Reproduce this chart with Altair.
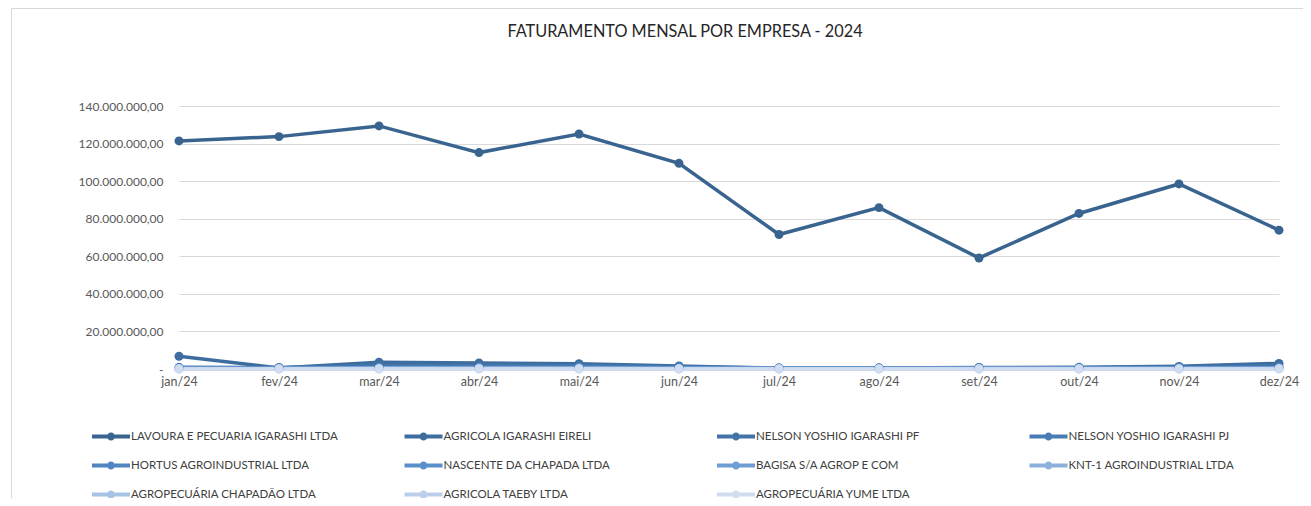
import altair as alt
import pandas as pd

months = ["jan/24", "fev/24", "mar/24", "abr/24", "mai/24", "jun/24",
          "jul/24", "ago/24", "set/24", "out/24", "nov/24", "dez/24"]

companies = [
    "LAVOURA E PECUARIA IGARASHI LTDA",
    "AGRICOLA IGARASHI EIRELI",
    "NELSON YOSHIO IGARASHI PF",
    "NELSON YOSHIO IGARASHI PJ",
    "HORTUS AGROINDUSTRIAL LTDA",
    "NASCENTE DA CHAPADA LTDA",
    "BAGISA S/A AGROP E COM",
    "KNT-1 AGROINDUSTRIAL LTDA",
    "AGROPECUÁRIA CHAPADÃO LTDA",
    "AGRICOLA TAEBY LTDA",
    "AGROPECUÁRIA YUME LTDA",
]

colors = ["#38648F", "#3D6D9E", "#4374A8", "#497CB3", "#5085BF", "#5A8FCA",
          "#6E9DD3", "#8BB0DC", "#A6C2E4", "#BBCFEB", "#D0DDF1"]

# values in R$ (millions)
lavoura = [121.4, 123.7, 129.4, 115.2, 125.1, 109.5, 71.6, 85.9, 59.1, 82.8, 98.5, 73.9]
eireli = [6.8, 0.6, 3.6, 3.2, 2.8, 1.6, 0.4, 0.5, 0.8, 0.9, 1.4, 3.0]
nelson_pf = [0.9, 0.8, 1.8, 2.0, 1.9, 1.2, 0.6, 0.6, 0.7, 0.7, 0.9, 1.6]
nelson_pj = [0.6, 0.5, 0.9, 1.1, 1.0, 0.8, 0.5, 0.5, 0.6, 0.6, 0.7, 0.9]
hortus = [0.5, 0.4, 0.7, 0.8, 0.8, 0.6, 0.4, 0.4, 0.5, 0.5, 0.6, 0.7]
nascente = [0.4, 0.3, 0.5, 0.6, 0.6, 0.5, 0.3, 0.3, 0.4, 0.4, 0.5, 0.5]
bagisa = [0.3, 0.2, 0.4, 0.4, 0.4, 0.3, 0.2, 0.2, 0.3, 0.3, 0.3, 0.4]
knt1 = [0.2, 0.2, 0.3, 0.3, 0.3, 0.2, 0.2, 0.2, 0.2, 0.2, 0.2, 0.3]
chapadao = [0.1, 0.1, 0.2, 0.2, 0.2, 0.1, 0.1, 0.1, 0.1, 0.1, 0.1, 0.2]
taeby = [0.05, 0.05, 0.1, 0.1, 0.1, 0.05, 0.05, 0.05, 0.05, 0.05, 0.05, 0.1]
yume = [0.0, 0.0, 0.0, 0.0, 0.0, 0.0, 0.0, 0.0, 0.0, 0.0, 0.0, 0.0]

series = [lavoura, eireli, nelson_pf, nelson_pj, hortus, nascente,
          bagisa, knt1, chapadao, taeby, yume]

title_text = "FATURAMENTO MENSAL POR EMPRESA - 2024"

rows = []
for comp, vals in zip(companies, series):
    for m, v in zip(months, vals):
        rows.append({"mes": m, "empresa": comp, "valor": v * 1_000_000})
df = pd.DataFrame(rows)

FONT = "Lato"

label_expr = (
    "datum.value == 0 ? '-\u00a0\u00a0\u00a0' : "
    "replace(replace(replace(format(datum.value, ',.2f'), regexp(',', 'g'), '#'), "
    "regexp('[.]', 'g'), ','), regexp('#', 'g'), '.')"
)

x_enc = alt.X(
    "mes:O", sort=months, title=None,
    scale=alt.Scale(type="point", padding=0),
    axis=alt.Axis(labelAngle=0, labelFont=FONT, labelFontSize=12.5,
                  labelColor="#595959", ticks=False, domain=True,
                  domainColor="#D9D9D9", labelPadding=6, grid=False),
)
y_enc = alt.Y(
    "valor:Q", title=None,
    scale=alt.Scale(domain=[0, 140_000_000], nice=False),
    axis=alt.Axis(values=[0, 20e6, 40e6, 60e6, 80e6, 100e6, 120e6, 140e6],
                  labelExpr=label_expr, labelFont=FONT, labelFontSize=12,
                  labelColor="#595959", ticks=False, domain=False,
                  grid=True, gridColor="#D9D9D9", gridWidth=1,
                  labelPadding=16),
)
color_scale = alt.Scale(domain=companies, range=colors)

sym_path = ("M-1,-0.21L3,-0.21L3,0.21L-1,0.21Z "
            "M0.58,0A0.42,0.42 0 1,1 1.42,0A0.42,0.42 0 1,1 0.58,0Z")

legend = alt.Legend(
    title=None, orient="none", legendX=-87, legendY=321, direction="horizontal",
    columns=4, gridAlign="all", columnPadding=65.5, rowPadding=14,
    symbolType=sym_path, symbolSize=361, symbolStrokeWidth=0,
    symbolOpacity=1, labelOffset=20, labelFont=FONT,
    labelFontSize=11.5, labelColor="#404040", labelLimit=400,
    padding=0,
)
color_enc = alt.Color("empresa:N", scale=color_scale, sort=companies, legend=legend)

lines = alt.Chart(df).mark_line(strokeWidth=3.5).encode(
    x=x_enc, y=y_enc, color=color_enc,
)
points = alt.Chart(df).mark_point(filled=True, size=80, opacity=1).encode(
    x=x_enc, y=y_enc, color=color_enc,
)

title_df = pd.DataFrame({"t": [title_text]})
title = alt.Chart(title_df).mark_text(
    font=FONT, fontSize=16.3, color="#262626", align="center", baseline="middle"
).encode(text="t:N", x=alt.value(506), y=alt.value(-74))

border = alt.Chart(title_df).mark_rect(
    fill="transparent", stroke="#D9D9D9", strokeWidth=1
).encode(x=alt.value(-167.5), x2=alt.value(1150), y=alt.value(-97.5), y2=alt.value(420))

chart = alt.layer(border, lines, points, title).properties(
    width=1100, height=263,
    autosize=alt.AutoSizeParams(type="none"),
    padding={"left": 171, "top": 98, "right": 24, "bottom": 129},
    background="white",
).configure_view(stroke=None)

chart.save("out.html", embed_options={"renderer": "svg", "actions": False})
